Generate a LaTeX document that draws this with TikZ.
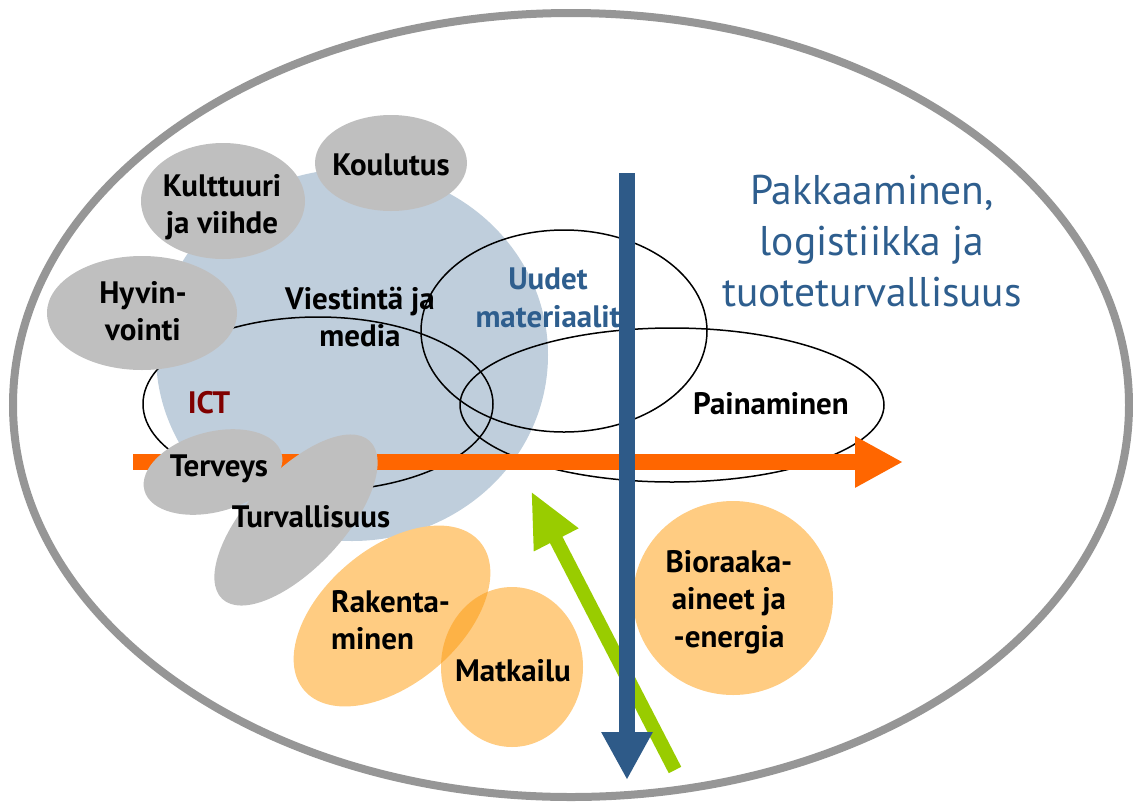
\documentclass[tikz,border=0pt]{standalone}
\usepackage{fontspec}
\setmainfont{PT Sans}
\usetikzlibrary{arrows.meta}
\definecolor{outergray}{RGB}{150,150,150}
\definecolor{bigblue}{RGB}{191,206,220}
\definecolor{blobgray}{RGB}{191,191,191}
\definecolor{bloborange}{RGB}{255,204,130}
\definecolor{overlaporange}{RGB}{253,178,70}
\definecolor{arroworange}{RGB}{255,102,0}
\definecolor{arrowblue}{RGB}{46,90,136}
\definecolor{textblue}{RGB}{46,94,142}
\definecolor{arrowgreen}{RGB}{153,204,0}
\definecolor{ictred}{RGB}{128,0,0}
\begin{document}
\begin{tikzpicture}[x=1pt,y=-1pt,
  lbl/.style={inner sep=0pt, align=center, text=black, font=\bfseries\fontsize{31}{37.5}\selectfont},
  ring/.style={draw=black, line width=1.5pt},
]
\useasboundingbox (0,0) rectangle (1133,807);
% outer ellipse
\draw[line width=8pt, draw=outergray] (571,405) ellipse [x radius=558, y radius=392];
% big blue circle
\fill[bigblue] (352,355) ellipse [x radius=196, y radius=186];
% black rings
\draw[ring] (318,404) ellipse [x radius=175, y radius=87];
\draw[ring] (564,331) ellipse [x radius=143, y radius=101];
\draw[ring] (672,405) ellipse [x radius=212, y radius=77];
% gray blobs
\fill[blobgray] (391,163) ellipse [x radius=76, y radius=48];
\fill[blobgray] (223,201) ellipse [x radius=82, y radius=58];
\fill[blobgray] (142,313) ellipse [x radius=95, y radius=57];
% orange arrow
\draw[arroworange, line width=16pt, -{Triangle[length=48pt,width=48pt]}] (133,462) -- (903,462);
% Terveys and Turvallisuus blobs
\fill[blobgray, rotate around={15:(213,472)}] (213,472) ellipse [x radius=71, y radius=40];
\fill[blobgray, rotate around={47:(296,520)}] (296,520) ellipse [x radius=108, y radius=48];
% orange blobs
\fill[bloborange, rotate around={40:(392,616)}] (392,616) ellipse [x radius=115, y radius=68];
\fill[bloborange] (512,667) ellipse [x radius=71, y radius=80];
\begin{scope}
  \clip[rotate around={40:(392,616)}] (392,616) ellipse [x radius=115, y radius=68];
  \fill[overlaporange] (512,667) ellipse [x radius=71, y radius=80];
\end{scope}
\fill[bloborange] (733,598) ellipse [x radius=100, y radius=97];
% labels
\node[lbl] (koulutus) at (391,165) {Koulutus};
\node[lbl] (kulttuuri) at (222,207) {Kulttuuri\\ja viihde};
\node[lbl] (hyvinvointi) at (143,311) {Hyvin-\\vointi};
\node[lbl] (viestinta) at (360,317) {Viestintä ja\\media};
\node[lbl, text=ictred] (ict) at (209,403) {ICT};
\node[lbl] (terveys) at (219,469) {Terveys};
\node[lbl] (turvallisuus) at (311,517) {Turvallisuus};
\node[lbl, text=textblue] (uudet) at (548,298) {Uudet\\materiaalit};
\node[lbl] (painaminen) at (771,404) {Painaminen};
\node[lbl, align=left, anchor=west] (rakentaminen) at (331,620) {Rakenta-\\minen};
\node[lbl] (matkailu) at (513,671) {Matkailu};
\node[lbl] (bio) at (729,602) {Bioraaka-\\aineet ja\\-energia};
\node[inner sep=0pt, align=center, text=textblue, font=\fontsize{41.5}{51}\selectfont] (pakkaaminen) at (872,241) {Pakkaaminen,\\logistiikka ja\\tuoteturvallisuus};
% green arrow
\draw[arrowgreen, line width=14pt, -{Triangle[length=55pt,width=46pt]}] (675,770) -- (531,491);
% blue arrow
\draw[arrowblue, line width=16pt, -{Triangle[length=48pt,width=48pt]}] (627,173) -- (627,780);
\end{tikzpicture}
\end{document}
